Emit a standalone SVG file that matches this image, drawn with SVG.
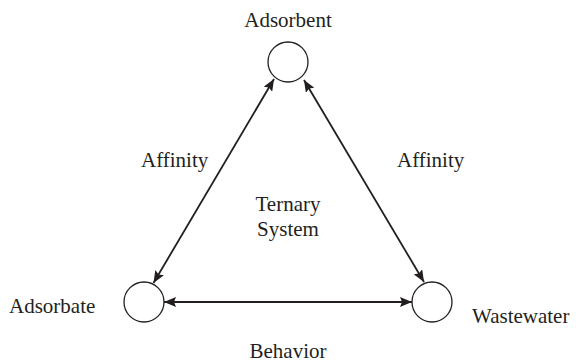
<svg xmlns="http://www.w3.org/2000/svg" width="576" height="364" viewBox="0 0 576 364">
<style>
text{font-family:"Liberation Serif","Times New Roman",serif;font-size:21px;fill:#231f20}
.n{fill:#fff;stroke:#231f20;stroke-width:1.3}
.c{stroke:#231f20;stroke-width:1.8;fill:none;marker-start:url(#a);marker-end:url(#a)}
</style>
<defs>
<marker id="a" viewBox="0 0 12 10" refX="12" refY="5" markerWidth="12" markerHeight="10" markerUnits="userSpaceOnUse" orient="auto-start-reverse">
<path d="M0,0L12,5L0,10L2,5z" fill="#231f20"/>
</marker>
</defs>
<rect width="576" height="364" fill="#fff"/>
<g id="connectors">
<line class="c" x1="153.5" y1="283" x2="274" y2="79"/>
<line class="c" x1="304" y1="80" x2="424" y2="282"/>
<line class="c" x1="164" y1="302" x2="412" y2="302"/>
</g>
<g id="adsorbent"><circle class="n" cx="288" cy="62" r="20"/><text x="288" y="27" text-anchor="middle">Adsorbent</text></g>
<g id="adsorbate"><circle class="n" cx="144" cy="302" r="20"/><text x="9" y="313">Adsorbate</text></g>
<g id="wastewater"><circle class="n" cx="432" cy="302" r="20"/><text x="472" y="323">Wastewater</text></g>
<g id="labels">
<text x="141" y="167">Affinity</text>
<text x="397" y="167">Affinity</text>
<text x="288" y="211" text-anchor="middle">Ternary</text>
<text x="288" y="236" text-anchor="middle">System</text>
<text x="288" y="358" text-anchor="middle">Behavior</text>
</g>
</svg>
